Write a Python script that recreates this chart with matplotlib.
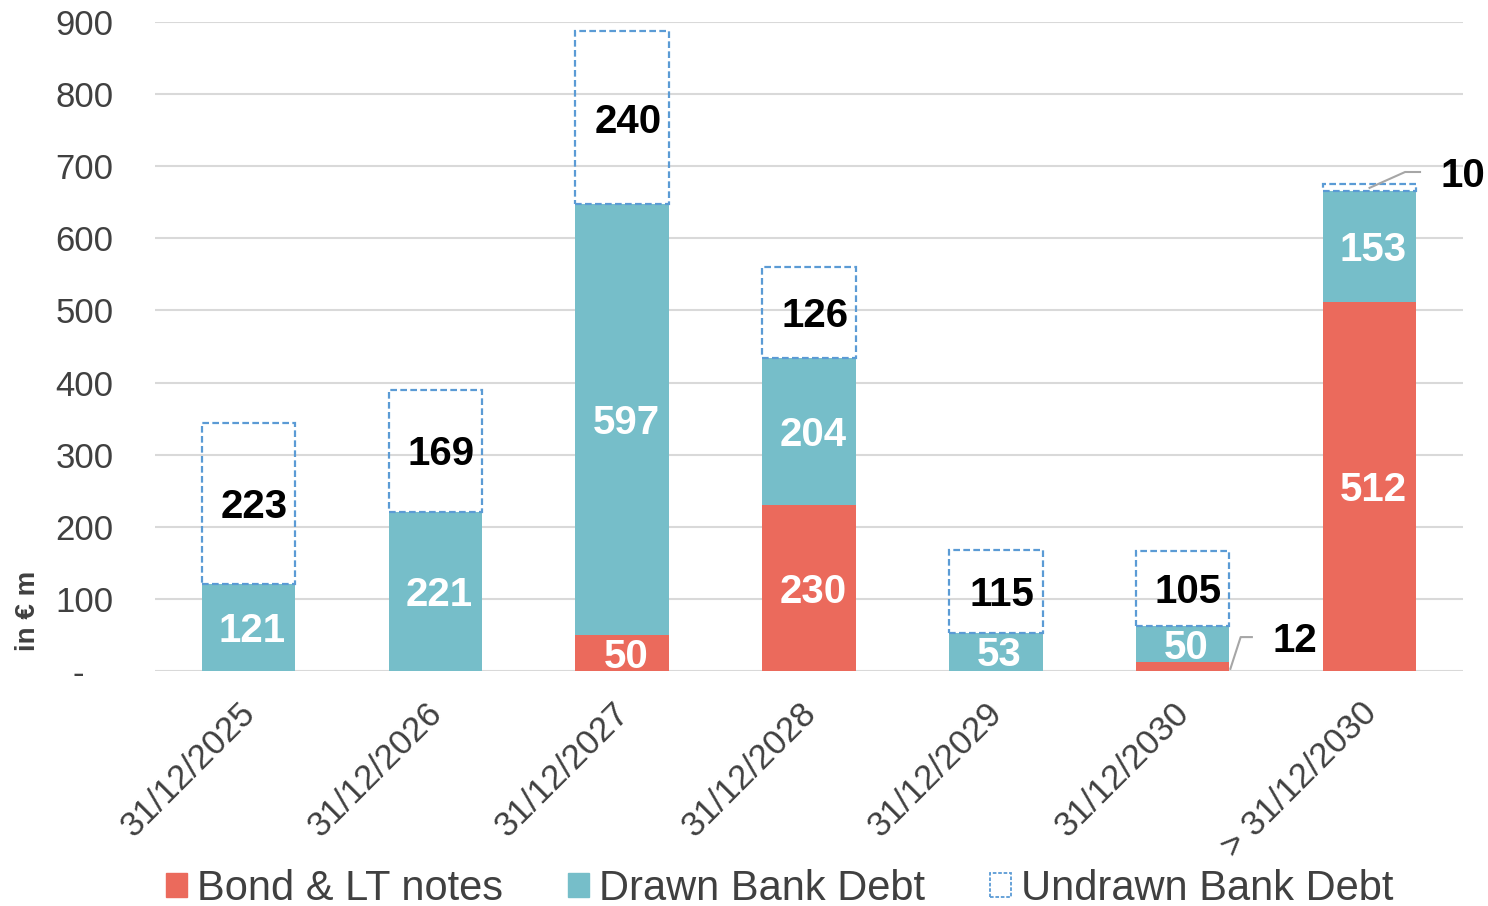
import matplotlib
matplotlib.use("Agg")
import matplotlib.pyplot as plt
from matplotlib.patches import Patch
from matplotlib.transforms import ScaledTranslation
import numpy as np

plt.rcParams['font.family'] = ['Liberation Sans', 'DejaVu Sans']

categories = ["31/12/2025", "31/12/2026", "31/12/2027", "31/12/2028",
              "31/12/2029", "31/12/2030", "> 31/12/2030"]
bond = [0, 0, 50, 230, 0, 12, 512]
drawn = [121, 221, 597, 204, 53, 50, 153]
undrawn = [223, 169, 240, 126, 115, 105, 10]
yticks = [0, 100, 200, 300, 400, 500, 600, 700, 800, 900]
ytick_labels = ["-   ", "100", "200", "300", "400", "500", "600", "700", "800", "900"]

RED = "#EB6A5C"
TEAL = "#76BEC9"
BLUE = "#5B9BD5"
GRID = "#D9D9D9"
TXT = "#404040"

fig = plt.figure(figsize=(14.88, 9.06), dpi=100)
ax = fig.add_axes([0.1042, 0.2594, 0.8790, 0.7163])

x = np.arange(len(categories))
w = 0.5
bond_a = np.array(bond)
drawn_a = np.array(drawn)
und_a = np.array(undrawn)

ax.bar(x, bond_a, w, color=RED, zorder=3)
ax.bar(x, drawn_a, w, bottom=bond_a, color=TEAL, zorder=3)
ax.bar(x, und_a, w, bottom=bond_a + drawn_a, facecolor="none",
       edgecolor=BLUE, linestyle=(0, (3, 1.5)), linewidth=1.6, zorder=4)

ax.set_xlim(-0.5, len(categories) - 0.5)
ax.set_ylim(0, 900)
ax.set_yticks(yticks)
ax.set_yticklabels(ytick_labels)
ax.grid(axis="y", color=GRID, linewidth=1.5, zorder=0)
for s in ax.spines.values():
    s.set_visible(False)
ax.tick_params(axis="both", length=0, labelsize=25, colors=TXT)
ax.tick_params(axis="y", pad=30)
ax.set_xticks(x)
ax.set_xticklabels(categories, rotation=45, ha="right", va="top",
                   rotation_mode="anchor")
ax.tick_params(axis="x", pad=12)
shift = ScaledTranslation(-10 / 100, -9 / 100, fig.dpi_scale_trans)
for lbl in ax.get_xticklabels():
    lbl.set_transform(lbl.get_transform() + shift)

lab_kw = dict(ha="center", va="center", fontsize=29, fontweight="bold", zorder=6)
dy = -5  # nudge labels slightly below segment centres

# value labels inside the stacked segments
for i in range(len(categories)):
    if bond[i] >= 50:
        ax.text(x[i] + 0.02, bond[i] / 2 + dy, str(bond[i]), color="white", **lab_kw)
    ax.text(x[i] + 0.02, bond[i] + drawn[i] / 2 + dy, str(drawn[i]),
            color="white", **lab_kw)
    if undrawn[i] >= 50:
        ax.text(x[i] + 0.03, bond[i] + drawn[i] + undrawn[i] / 2 + dy,
                str(undrawn[i]), color="black", **lab_kw)

# callout for the thin 2030 bond segment
i = 5
ax.plot([x[i] + 0.255, x[i] + 0.31, x[i] + 0.37], [3, 47, 47],
        color="#A6A6A6", lw=1.5, zorder=5, clip_on=False)
ax.text(x[i] + 0.60, 46 + dy, str(bond[i]), color="black", **lab_kw)

# callout for the thin undrawn segment beyond 2030
i = 6
top = bond[i] + drawn[i] + undrawn[i] / 2
ax.plot([x[i], x[i] + 0.19, x[i] + 0.27], [top, 692, 692],
        color="#A6A6A6", lw=1.5, zorder=5, clip_on=False)
t = ax.text(x[i] + 0.50, 692 + dy, str(undrawn[i]), color="black", **lab_kw)
t.set_clip_on(False)

fig.text(28 / 1488, 1 - 611 / 906, "in € m", rotation=90, ha="center",
         va="center", fontsize=20, fontweight="bold", color=TXT)

handles = [
    Patch(facecolor=RED, edgecolor=RED),
    Patch(facecolor=TEAL, edgecolor=TEAL),
    Patch(facecolor="none", edgecolor=BLUE, linestyle=(0, (2, 1)), linewidth=1.3),
]
leg = fig.legend(handles, ["Bond & LT notes", "Drawn Bank Debt", "Undrawn Bank Debt"],
                 loc="center", bbox_to_anchor=(0.524, 0.019), ncol=3,
                 frameon=False, fontsize=30, handlelength=0.5, handleheight=0.5,
                 handletextpad=0.25, columnspacing=1.55, labelcolor=TXT)

fig.savefig("out.png", dpi=100)
